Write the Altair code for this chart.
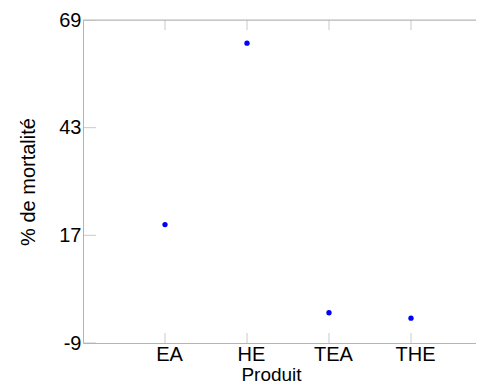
import altair as alt
import pandas as pd

products = ["EA", "HE", "TEA", "THE"]
mortality = [19.6, 63.4, -1.7, -3.0]
y_ticks = [-9, 17, 43, 69]
y_min, y_max = -9, 69

W, H = 393, 323
X_RANGE_END = 410  # full category span of the original axis (extends past the visible edge)
FONT = "Liberation Sans"
GRID = "#b4b4b4"

df = pd.DataFrame({"Produit": products, "mortality": mortality})
df_bottom = pd.DataFrame({"Produit": products, "mortality": [y_min] * len(products)})
df_top = pd.DataFrame({"Produit": products, "mortality": [y_max] * len(products)})
df_yt = pd.DataFrame({"mortality": y_ticks})

x_enc = alt.X(
    "Produit:N",
    sort=products,
    scale=alt.Scale(type="point", padding=1, range=[0, X_RANGE_END]),
    title="Produit",
    axis=alt.Axis(
        ticks=False, domain=True, domainColor=GRID, labelAngle=0,
        labelFont=FONT, labelFontSize=20, labelColor="black", labelPadding=1,
        labelOffset=4, titleFont=FONT, titleFontSize=19, titleFontWeight="normal",
        titleColor="black", titleBaseline="bottom", titleY=41, titleX=188, grid=False,
    ),
)
y_enc = alt.Y(
    "mortality:Q",
    scale=alt.Scale(domain=[y_min, y_max], nice=False, zero=False),
    title="% de mortalité",
    axis=alt.Axis(
        values=y_ticks, ticks=False, domain=True, domainColor=GRID, grid=False,
        labelExpr="'' + datum.value",
        labelFont=FONT, labelFontSize=20, labelColor="black", labelPadding=2,
        titleFont=FONT, titleFontSize=20, titleFontWeight="normal",
        titleColor="black", titlePadding=20,
    ),
)

points = alt.Chart(df).mark_circle(size=28, color="#0000ff", opacity=1).encode(x=x_enc, y=y_enc)

xt_bottom = alt.Chart(df_bottom).mark_tick(orient="vertical", size=20, thickness=1, color=GRID, clip=True).encode(x=x_enc, y=y_enc)
xt_top = alt.Chart(df_top).mark_tick(orient="vertical", size=20, thickness=1, color=GRID, clip=True).encode(x=x_enc, y=y_enc)
top_line = alt.Chart(df_top.head(1)).mark_rule(color=GRID, strokeWidth=1).encode(
    y=y_enc, x=alt.value(0), x2=alt.value(W)
)
yt_left = alt.Chart(df_yt).mark_tick(orient="horizontal", size=26, thickness=1, color=GRID, clip=True).encode(
    y=y_enc, x=alt.value(0)
)

chart = alt.layer(xt_bottom, xt_top, top_line, yt_left, points).properties(
    width=W, height=H,
    autosize=alt.AutoSizeParams(type="none"),
    padding={"left": 75, "top": 12, "right": 0, "bottom": 41},
).configure_view(stroke=None).configure(background="white")

chart.save("out.html", embed_options={"renderer": "svg", "actions": False})
